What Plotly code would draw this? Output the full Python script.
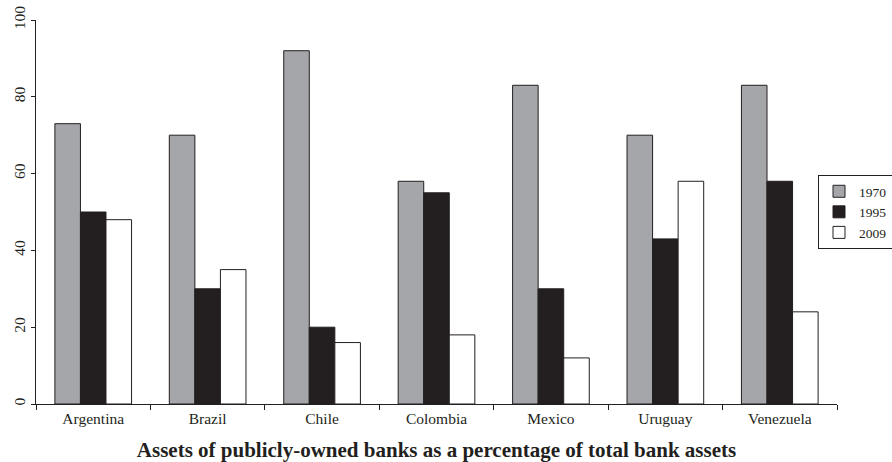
import plotly.graph_objects as go

countries = ["Argentina", "Brazil", "Chile", "Colombia", "Mexico", "Uruguay", "Venezuela"]
y1970 = [73, 70, 92, 58, 83, 70, 83]
y1995 = [50, 30, 20, 55, 30, 43, 58]
y2009 = [48, 35, 16, 18, 12, 58, 24]
series_names = ["1970", "1995", "2009"]
colors = ["#a5a6aa", "#231f20", "#ffffff"]

fig = go.Figure()
for name, vals, col in zip(series_names, [y1970, y1995, y2009], colors):
    fig.add_trace(go.Bar(
        x=countries, y=vals, name=name,
        marker=dict(color=col, line=dict(color="#231f20", width=1)),
    ))

font_family = "Liberation Serif, Times New Roman, serif"
fig.update_layout(
    width=892, height=462,
    barmode="group", bargap=0.33, bargroupgap=0,
    plot_bgcolor="white", paper_bgcolor="white",
    margin=dict(l=36, r=55, t=20, b=58, autoexpand=False),
    font=dict(family=font_family, size=15.5, color="#231f20"),
    legend=dict(
        x=(818 - 36) / 801, xanchor="left", y=0.5, yanchor="middle",
        bordercolor="#231f20", borderwidth=1, bgcolor="white",
        font=dict(family=font_family, size=13.5, color="#231f20"),
        tracegroupgap=0, itemwidth=30,
    ),
    showlegend=True,
)
fig.update_xaxes(
    showline=True, linecolor="#231f20", linewidth=1,
    ticks="outside", tickson="boundaries", ticklen=5, tickcolor="#231f20",
    showgrid=False,
    tickfont=dict(size=15.5),
    title=dict(text="<b>Assets of publicly-owned banks as a percentage of total bank assets</b>",
               font=dict(size=21, family=font_family), standoff=18),
)
fig.update_yaxes(
    range=[0, 100], dtick=20, showline=True, linecolor="#231f20", linewidth=1,
    ticks="outside", ticklen=4, tickcolor="#231f20", showgrid=False, zeroline=False,
    tickangle=-90, tickfont=dict(size=15.5),
)

fig.write_html("out.html")
